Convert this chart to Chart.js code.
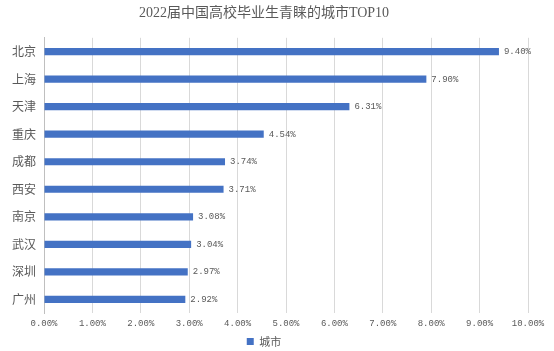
<!DOCTYPE html>
<html>
<head>
<meta charset="utf-8">
<script src="https://cdn.jsdelivr.net/npm/chart.js@4"></script>
<style>
  html, body { margin: 0; padding: 0; background: #fff; }
  #wrap { width: 554px; height: 351px; }
</style>
</head>
<body>
<div id="wrap"><canvas id="cityChart"></canvas></div>
<script>
// top 10 cities, share of graduates
const cities = ['北京', '上海', '天津', '重庆', '成都', '西安', '南京', '武汉', '深圳', '广州'];
const shares = [9.40, 7.90, 6.31, 4.54, 3.74, 3.71, 3.08, 3.04, 2.97, 2.92];
const seriesName = '城市';
const chartTitle = '2022届中国高校毕业生青睐的城市TOP10';

const textGray = '#595959';
const barBlue = '#4472C4';

// draw the value next to the end of every bar
const valueLabels = {
    id: 'valueLabels',
    afterDatasetsDraw(chart) {
        const ctx = chart.ctx;
        const meta = chart.getDatasetMeta(0);
        ctx.save();
        ctx.font = '9px "Liberation Mono", monospace';
        ctx.fillStyle = textGray;
        ctx.textBaseline = 'middle';
        meta.data.forEach((bar, i) => {
            ctx.fillText(shares[i].toFixed(2) + '%', bar.x + 5, bar.y);
        });
        ctx.restore();
    }
};

new Chart(document.getElementById('cityChart'), {
    type: 'bar',
    data: {
        labels: cities,
        datasets: [{
            label: seriesName,
            data: shares,
            backgroundColor: barBlue,
            borderWidth: 0,
            categoryPercentage: 0.5,
            barPercentage: 0.52
        }]
    },
    options: {
        indexAxis: 'y',
        responsive: true,
        maintainAspectRatio: false,
        animation: false,
        layout: { padding: { left: 0, right: 26, top: 0, bottom: -6 } },
        plugins: {
            title: {
                display: true,
                text: chartTitle,
                color: textGray,
                font: { family: '"Liberation Serif", "Noto Sans CJK SC"', size: 14, weight: 'normal' },
                padding: { top: 5, bottom: 16 }
            },
            legend: {
                position: 'bottom',
                labels: {
                    color: textGray,
                    boxWidth: 7,
                    boxHeight: 7,
                    font: { family: '"Noto Sans CJK SC"', size: 11 },
                    padding: 2
                }
            },
            tooltip: { enabled: false }
        },
        scales: {
            x: {
                min: 0,
                max: 10,
                ticks: {
                    stepSize: 1,
                    color: textGray,
                    font: { family: '"Liberation Mono", monospace', size: 9 },
                    padding: 5,
                    callback: (v) => v.toFixed(2) + '%'
                },
                grid: { color: '#d9d9d9', drawTicks: false },
                border: { display: false }
            },
            y: {
                ticks: {
                    color: textGray,
                    font: { family: '"Noto Sans CJK SC"', size: 12 },
                    padding: 8
                },
                grid: { display: false, drawTicks: false },
                border: { display: true, color: '#bfbfbf' },
                afterFit: (scale) => { scale.width = 44; }
            }
        }
    },
    plugins: [valueLabels]
});
</script>
</body>
</html>
